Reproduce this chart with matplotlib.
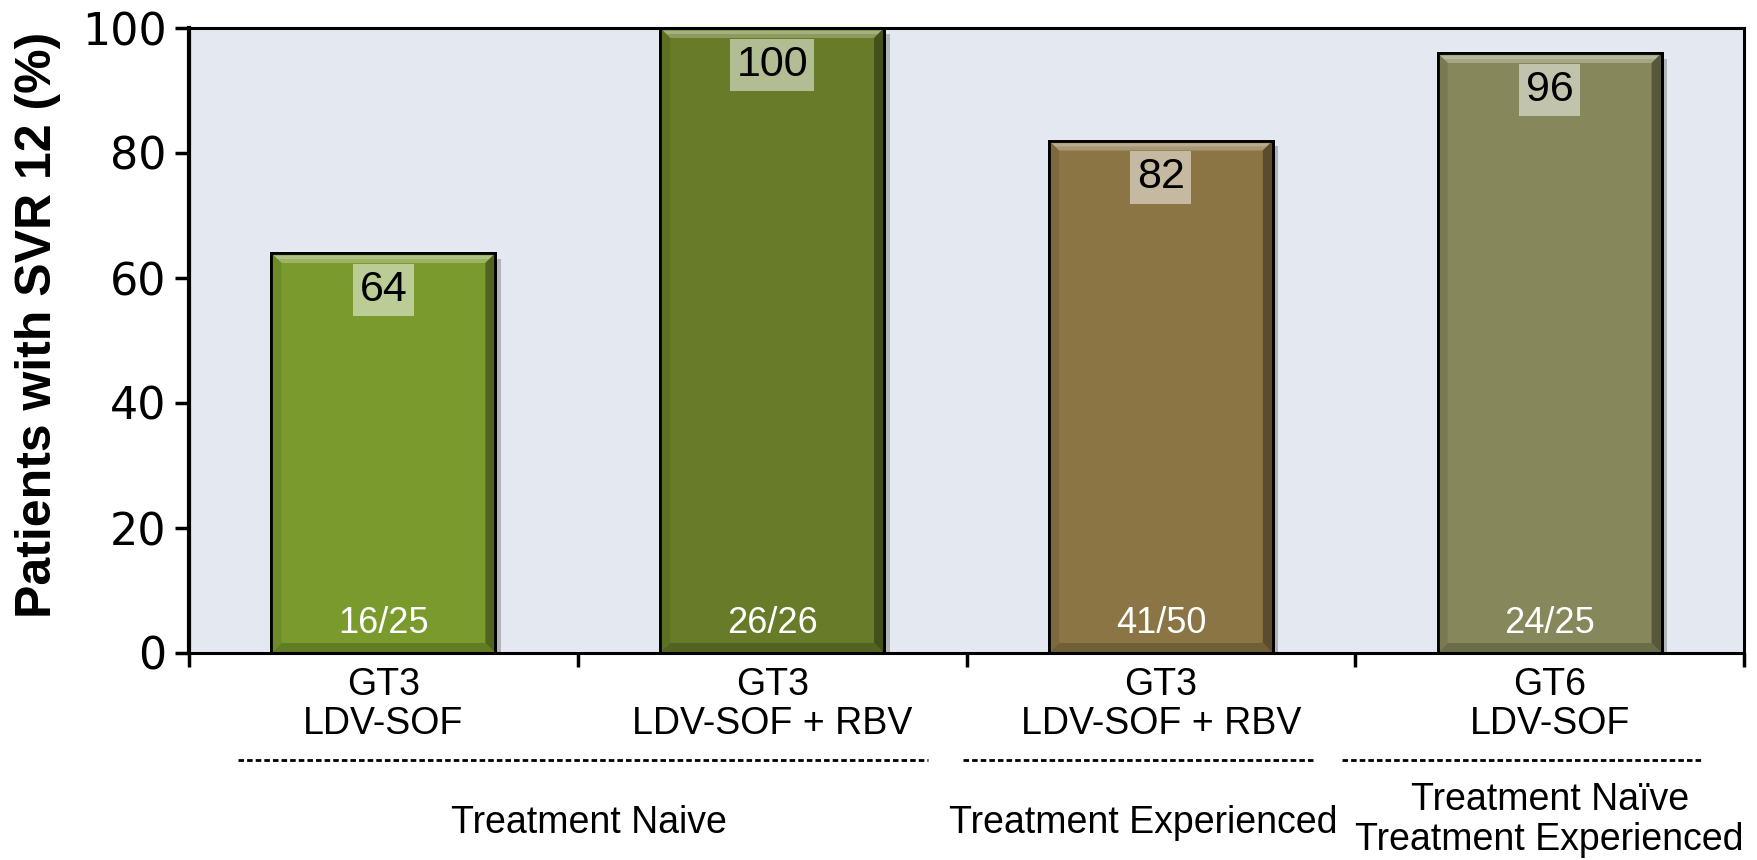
import matplotlib
matplotlib.use("Agg")
import matplotlib.pyplot as plt
import matplotlib.patheffects as pe
from matplotlib.patches import Polygon
from matplotlib.colors import to_rgb
import numpy as np

# ---------------- data ----------------
genotypes = ["GT3", "GT3", "GT3", "GT6"]
regimens = ["LDV-SOF", "LDV-SOF + RBV", "LDV-SOF + RBV", "LDV-SOF"]
svr_values = [64, 100, 82, 96]
fractions = ["16/25", "26/26", "41/50", "24/25"]
bar_colors = ["#7A9A2E", "#677B28", "#8B7544", "#86885B"]
yticks = [0, 20, 40, 60, 80, 100]
ylabel = "Patients with SVR 12 (%)"
groups = ["Treatment Naive", "Treatment Experienced",
          "Treatment Naïve\nTreatment Experienced"]

plt.rcParams['font.family'] = ['Liberation Sans', 'DejaVu Sans']
plt.rcParams['lines.scale_dashes'] = False

W, H = 1758, 860
fig = plt.figure(figsize=(W / 100, H / 100), dpi=100)
ax_l, ax_r, ax_t, ax_b = 189, 1744, 28, 653
ax = fig.add_axes([ax_l / W, 1 - ax_b / H, (ax_r - ax_l) / W, (ax_b - ax_t) / H])
ax.set_facecolor("#E4E8F1")

x = np.arange(len(svr_values))
bw = 0.576
ax.set_xlim(-0.5, len(x) - 0.5)
ax.set_ylim(0, 100)

px_x = (len(x)) / (ax_r - ax_l)     # data units per pixel (x)
px_y = 100 / (ax_b - ax_t)          # data units per pixel (y)

bars = ax.bar(x, svr_values, width=bw, color=bar_colors, edgecolor="black",
              linewidth=2.0, zorder=3)
for b in bars:
    b.set_path_effects([pe.SimplePatchShadow(offset=(4, -4), shadow_rgbFace="0.4", alpha=0.4),
                        pe.Normal()])


def mix(c, t, a):
    c = np.array(to_rgb(c)); t = np.array(to_rgb(t))
    return tuple(c * (1 - a) + t * a)


bev = 10
for xi, v, c in zip(x, svr_values, bar_colors):
    l, r = xi - bw / 2, xi + bw / 2
    bx, by = bev * px_x, bev * px_y
    # top bevel (light, two-tone)
    ax.add_patch(Polygon([(l, v), (r, v), (r - bx, v - by), (l + bx, v - by)],
                         closed=True, facecolor=mix(c, "white", 0.25), edgecolor="none", zorder=4))
    ax.add_patch(Polygon([(l + bx * 0.3, v - by * 0.3), (r - bx * 0.3, v - by * 0.3),
                          (r - bx * 0.6, v - by * 0.6), (l + bx * 0.6, v - by * 0.6)],
                         closed=True, facecolor=mix(c, "white", 0.4), edgecolor="none", zorder=4))
    # right bevel (dark)
    ax.add_patch(Polygon([(r, v), (r, 0), (r - bx, by), (r - bx, v - by)],
                         closed=True, facecolor=mix(c, "black", 0.35), edgecolor="none", zorder=4))
    # bottom bevel (slightly dark)
    ax.add_patch(Polygon([(l, 0), (r, 0), (r - bx, by), (l + bx, by)],
                         closed=True, facecolor=mix(c, "black", 0.2), edgecolor="none", zorder=4))
    # left bevel (slightly dark)
    ax.add_patch(Polygon([(l, 0), (l, v), (l + bx, v - by), (l + bx, by)],
                         closed=True, facecolor=mix(c, "black", 0.1), edgecolor="none", zorder=4))
    # outline again on top
    ax.add_patch(Polygon([(l, 0), (l, v), (r, v), (r, 0)], closed=True, facecolor="none",
                         edgecolor="black", linewidth=2.0, zorder=5))

# value labels with light boxes
for xi, v in zip(x, svr_values):
    ax.annotate(f"{v}", xy=(xi, v), xytext=(0, -37 / 1.389), textcoords="offset points",
                ha="center", va="center", fontsize=31, color="black", zorder=6,
                bbox=dict(boxstyle="square,pad=0.15", facecolor="white", edgecolor="none", alpha=0.5))

# fraction labels
for xi, f in zip(x, fractions):
    ax.text(xi, (ax_b - 633) * px_y, f, ha="center", va="baseline", fontsize=26,
            color="white", zorder=6)

# axes styling
for s in ax.spines.values():
    s.set_linewidth(2.2)
    s.set_color("black")
    s.set_zorder(7)
ax.spines["left"].set_linewidth(3)

ax.set_yticks(yticks)
ax.set_yticklabels([str(t) for t in yticks], fontsize=32, family="DejaVu Sans")
ax.tick_params(axis="y", length=10, width=2.5, pad=6, direction="out")

ax.set_xticks(x)
ax.set_xticklabels([f"{g}\n{r}" for g, r in zip(genotypes, regimens)], fontsize=27,
                   linespacing=1.12)
ax.tick_params(axis="x", which="major", length=0, pad=10)
ax.set_xticks(np.arange(-0.5, len(x), 1.0), minor=True)
ax.tick_params(axis="x", which="minor", length=10, width=2.5, direction="out")

fig.text(38 / W, 1 - 325 / H, ylabel, rotation=90, ha="center", va="center",
         fontsize=36, fontweight="bold")

# dashed group separators and group labels
trans = ax.get_xaxis_transform()
yd = -(760 - ax_b) / (ax_b - ax_t)
for x0, x1 in [(-0.374, 1.40), (1.492, 2.395), (2.467, 3.39)]:
    ax.plot([x0, x1], [yd, yd], transform=trans, color="black", lw=2.0,
            dashes=(4.0, 2.2), clip_on=False)


def yax(py):
    return -(py - ax_b) / (ax_b - ax_t)


ax.text(0.53, yax(833), groups[0], transform=trans, ha="center", va="baseline", fontsize=27)
ax.text(1.955, yax(833), groups[1], transform=trans, ha="center", va="baseline", fontsize=27)
g3 = groups[2].split("\n")
ax.text(3.0, yax(810), g3[0], transform=trans, ha="center", va="baseline", fontsize=27)
ax.text(3.0, yax(850), g3[1], transform=trans, ha="center", va="baseline", fontsize=27)

fig.savefig("out.png", dpi=100)
